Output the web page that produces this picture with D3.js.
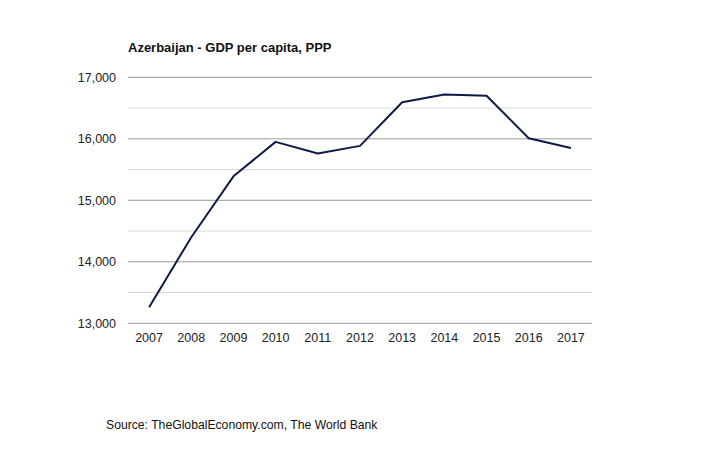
<!DOCTYPE html>
<html><head><meta charset="utf-8">
<script src="https://cdn.jsdelivr.net/npm/d3@7"></script>
<style>body{margin:0;background:#fff}svg{display:block}text{font-family:Arial,"Liberation Sans",sans-serif}</style>
</head><body>
<svg id="c" width="720" height="450"></svg>
<script>
const years = ["2007","2008","2009","2010","2011","2012","2013","2014","2015","2016","2017"];
const gdp = [13260,14400,15390,15950,15760,15885,16595,16720,16700,16010,15850];
const yTicks = [13000,14000,15000,16000,17000];
const minorTicks = [13500,14500,15500,16500];
const title = "Azerbaijan - GDP per capita, PPP";
const source = "Source: TheGlobalEconomy.com, The World Bank";

const svg = d3.select("#c");
const L = 128, R = 592, T = 77.3, B = 323.3;
const x = d3.scaleBand().domain(years).range([L, R]);
const y = d3.scaleLinear().domain([13000, 17000]).range([B, T]);

svg.append("g").selectAll("line").data(minorTicks).join("line")
  .attr("x1", L).attr("x2", R).attr("y1", d => y(d)).attr("y2", d => y(d))
  .attr("stroke", "#d9d9d9").attr("stroke-width", 1);
svg.append("g").selectAll("line").data(yTicks).join("line")
  .attr("x1", L).attr("x2", R).attr("y1", d => y(d)).attr("y2", d => y(d))
  .attr("stroke", "#9a9a9a").attr("stroke-width", 1);

svg.append("g").selectAll("text").data(yTicks).join("text")
  .attr("x", 116).attr("y", d => y(d) + 4.5).attr("text-anchor", "end")
  .attr("font-size", 12.5).attr("fill", "#222").text(d3.format(","));

svg.append("g").selectAll("text").data(years).join("text")
  .attr("x", d => x(d) + x.bandwidth() / 2).attr("y", 342).attr("text-anchor", "middle")
  .attr("font-size", 12.5).attr("fill", "#222").text(d => d);

const line = d3.line().x((d, i) => x(years[i]) + x.bandwidth() / 2).y(d => y(d));
svg.append("path").datum(gdp).attr("d", line).attr("fill", "none")
  .attr("stroke", "#0f1a4a").attr("stroke-width", 2).attr("stroke-linejoin", "round");

svg.append("text").attr("x", 128).attr("y", 52).attr("font-size", 13).attr("font-weight", "bold")
  .attr("fill", "#111").text(title);
svg.append("text").attr("x", 106).attr("y", 429).attr("font-size", 12.2)
  .attr("fill", "#111").text(source);
</script>
</body></html>
